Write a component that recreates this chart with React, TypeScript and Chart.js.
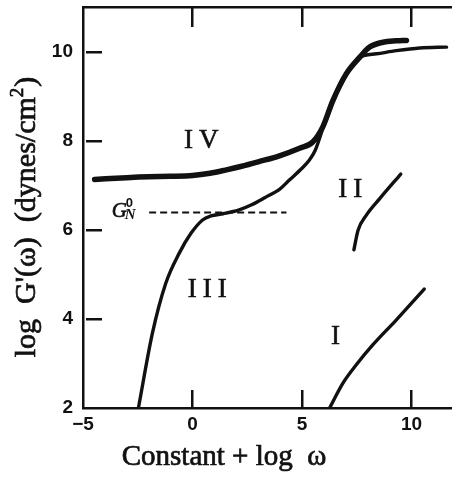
import React, { useEffect, useRef } from "react";
import { Chart, registerables } from "chart.js";

Chart.register(...registerables);

// ---- data ----
const xTickValues = [-5, 0, 5, 10];
const xTickLabels = ["\u22125", "0", "5", "10"];
const yTickValues = [2, 4, 6, 8, 10];
const yTickLabels = ["2", "4", "6", "8", "10"];

const curveIVx = [-4.47, -3, -2, -1, 0, 0.8, 1.5, 2.2, 3.04, 3.97, 4.89, 5.49, 5.95, 6.41, 7.02, 7.63, 8.09, 8.7, 9.3, 9.77];
const curveIVy = [7.13, 7.17, 7.19, 7.2, 7.22, 7.27, 7.34, 7.42, 7.53, 7.66, 7.83, 7.97, 8.31, 8.9, 9.5, 9.87, 10.1, 10.21, 10.24, 10.25];

const curveIIIx = [-2.47, -1.83, -1.22, -0.61, -0.07, 0.46, 0.84, 1.4, 2.1, 2.7, 3.3, 4.0, 4.41, 5.0, 5.33, 5.6, 5.8, 6.26, 6.87, 7.63, 8.4, 9.31, 10.38, 11.6];
const curveIIIy = [2.0, 3.68, 4.8, 5.47, 5.92, 6.22, 6.31, 6.36, 6.44, 6.56, 6.72, 6.92, 7.11, 7.38, 7.56, 7.78, 8.05, 8.75, 9.35, 9.87, 9.95, 10.02, 10.08, 10.1];

const curveIIx = [7.37, 7.56, 7.94, 8.55, 9.51];
const curveIIy = [5.55, 5.99, 6.33, 6.7, 7.25];

const curveIx = [6.26, 6.87, 7.48, 8.24, 9.31, 10.58];
const curveIy = [2.0, 2.56, 2.97, 3.42, 3.98, 4.67];

const plateauX = [-1.98, 4.29];
const plateauY = [6.39, 6.39];

const curveLabels = ["IV", "III", "II", "I"];
const curveLabelX = [0.4, 0.67, 7.2, 6.53];
const curveLabelY = [7.99, 4.65, 6.9, 3.6];

const gnLabelX = -2.5;
const gnLabelY = 6.44;

const xTitle = "Constant + log  \u03c9";
const yTitleMain = "log  G'(\u03c9)  (dynes/cm";
const yTitleSup = "2";
const yTitleEnd = ")";

const INK = "#111";

const zip = (xs: number[], ys: number[]) => xs.map((x, i) => ({ x, y: ys[i] }));

const boldText = (ctx: any, t: string, x: number, y: number) => {
  ctx.fillText(t, x, y);
  ctx.strokeText(t, x, y);
};

const framePlugin = {
  id: "frame",
  afterDraw(chart: any) {
    const { ctx, chartArea, scales } = chart;
    const xs = scales.x;
    const ys = scales.y;
    const { left, right, top, bottom } = chartArea;
    ctx.save();
    ctx.setLineDash([]);
    ctx.fillStyle = INK;
    ctx.strokeStyle = INK;
    // frame
    ctx.fillRect(left - 1, top - 1, 2.5, bottom - top + 2);
    ctx.fillRect(left - 1, bottom - 1, right - left + 2, 2.5);
    ctx.fillRect(left - 1, top - 1, right - left + 2, 2.5);

    // inward ticks
    for (let i = 1; i < xTickValues.length; i++) {
      const px = Math.round(xs.getPixelForValue(xTickValues[i]));
      ctx.fillRect(px - 1, bottom - 18, 2.5, 18);
      ctx.fillRect(px - 1, top, 2.5, 20);
    }
    for (let i = 1; i < yTickValues.length; i++) {
      const py = Math.round(ys.getPixelForValue(yTickValues[i]));
      ctx.fillRect(left + 3, py - 1, 16, 2.5);
    }

    // curve labels
    ctx.font = "27px 'Liberation Serif'";
    ctx.lineWidth = 0.6;
    ctx.textAlign = "center";
    ctx.textBaseline = "middle";
    (ctx as any).letterSpacing = "6px";
    curveLabels.forEach((t, i) => {
      boldText(ctx, t, xs.getPixelForValue(curveLabelX[i]) + 3, ys.getPixelForValue(curveLabelY[i]));
    });
    (ctx as any).letterSpacing = "0px";

    // G_N^0 label
    const gx = xs.getPixelForValue(gnLabelX);
    const gy = ys.getPixelForValue(gnLabelY);
    ctx.textAlign = "left";
    ctx.textBaseline = "alphabetic";
    ctx.font = "italic 21px 'Liberation Serif'";
    boldText(ctx, "G", gx - 26, gy + 7);
    ctx.font = "bold 13px 'Liberation Sans'";
    ctx.fillText("0", gx - 12, gy - 3);
    ctx.font = "italic bold 15px 'Liberation Serif'";
    ctx.fillText("N", gx - 13, gy + 9);

    // x axis title
    ctx.font = "29px 'Liberation Serif'";
    ctx.lineWidth = 0.7;
    ctx.textAlign = "center";
    ctx.textBaseline = "alphabetic";
    boldText(ctx, xTitle, 224, 465);

    // y axis title (rotated)
    ctx.save();
    ctx.translate(35, 217);
    ctx.rotate(-Math.PI / 2);
    ctx.font = "30px 'Liberation Serif'";
    const wMain = ctx.measureText(yTitleMain).width;
    ctx.font = "19px 'Liberation Serif'";
    const wSup = ctx.measureText(yTitleSup).width;
    ctx.font = "30px 'Liberation Serif'";
    const wEnd = ctx.measureText(yTitleEnd).width;
    const total = wMain + wSup + 1 + wEnd;
    let cx = -total / 2;
    ctx.textAlign = "left";
    boldText(ctx, yTitleMain, cx, 0);
    cx += wMain;
    ctx.font = "19px 'Liberation Serif'";
    boldText(ctx, yTitleSup, cx, -12);
    cx += wSup + 1;
    ctx.font = "30px 'Liberation Serif'";
    boldText(ctx, yTitleEnd, cx, 0);
    ctx.restore();
    ctx.restore();
  },
};

export default function App() {
  const ref = useRef<HTMLCanvasElement | null>(null);
  useEffect(() => {
    if (!ref.current) return;
    const lineBase = {
      borderColor: INK,
      backgroundColor: INK,
      pointRadius: 0,
      fill: false,
      cubicInterpolationMode: "monotone" as const,
      borderCapStyle: "round" as const,
      borderJoinStyle: "round" as const,
    };
    const chart = new Chart(ref.current, {
      type: "line",
      data: {
        datasets: [
          { ...lineBase, label: "IV", data: zip(curveIVx, curveIVy), borderWidth: 5.5 },
          { ...lineBase, label: "III", data: zip(curveIIIx, curveIIIy), borderWidth: 3.4 },
          { ...lineBase, label: "II", data: zip(curveIIx, curveIIy), borderWidth: 3.4 },
          { ...lineBase, label: "I", data: zip(curveIx, curveIy), borderWidth: 3.4 },
          {
            label: "G_N^0",
            data: zip(plateauX, plateauY),
            borderColor: INK,
            borderWidth: 2,
            borderDash: [7, 4],
            pointRadius: 0,
            fill: false,
            borderCapStyle: "butt",
          },
        ],
      },
      options: {
        animation: false,
        responsive: true,
        maintainAspectRatio: false,
        devicePixelRatio: 1,
        layout: { padding: { top: 7, right: 0, left: 0, bottom: 0 } },
        plugins: { legend: { display: false }, tooltip: { enabled: false }, title: { display: false } },
        scales: {
          x: {
            type: "linear",
            position: "bottom",
            min: -5,
            max: 11.85,
            afterBuildTicks: (s: any) => {
              s.ticks = xTickValues.map((v) => ({ value: v }));
            },
            afterFit: (s: any) => {
              s.height = 70;
              s.paddingLeft = 0;
              s.paddingRight = 0;
            },
            ticks: {
              callback: (v: any) => xTickLabels[xTickValues.indexOf(Number(v))] ?? "",
              color: INK,
              padding: 5,
              maxRotation: 0,
              font: { family: "'Liberation Sans'", size: 19, weight: "bold" },
            },
            grid: { display: false, drawTicks: false },
            border: { display: false },
          },
          y: {
            type: "linear",
            min: 2,
            max: 11,
            afterBuildTicks: (s: any) => {
              s.ticks = yTickValues.map((v) => ({ value: v }));
            },
            afterFit: (s: any) => {
              s.width = 83;
              s.paddingTop = 0;
              s.paddingBottom = 0;
            },
            ticks: {
              callback: (v: any) => yTickLabels[yTickValues.indexOf(Number(v))] ?? "",
              color: INK,
              padding: 10,
              font: { family: "'Liberation Sans'", size: 19, weight: "bold" },
            },
            grid: { display: false, drawTicks: false },
            border: { display: false },
          },
        },
      },
      plugins: [framePlugin],
    });
    return () => chart.destroy();
  }, []);
  return (
    <div style={{ position: "absolute", left: 0, top: 0, width: 452, height: 478, background: "#fff" }}>
      <canvas ref={ref} />
    </div>
  );
}
